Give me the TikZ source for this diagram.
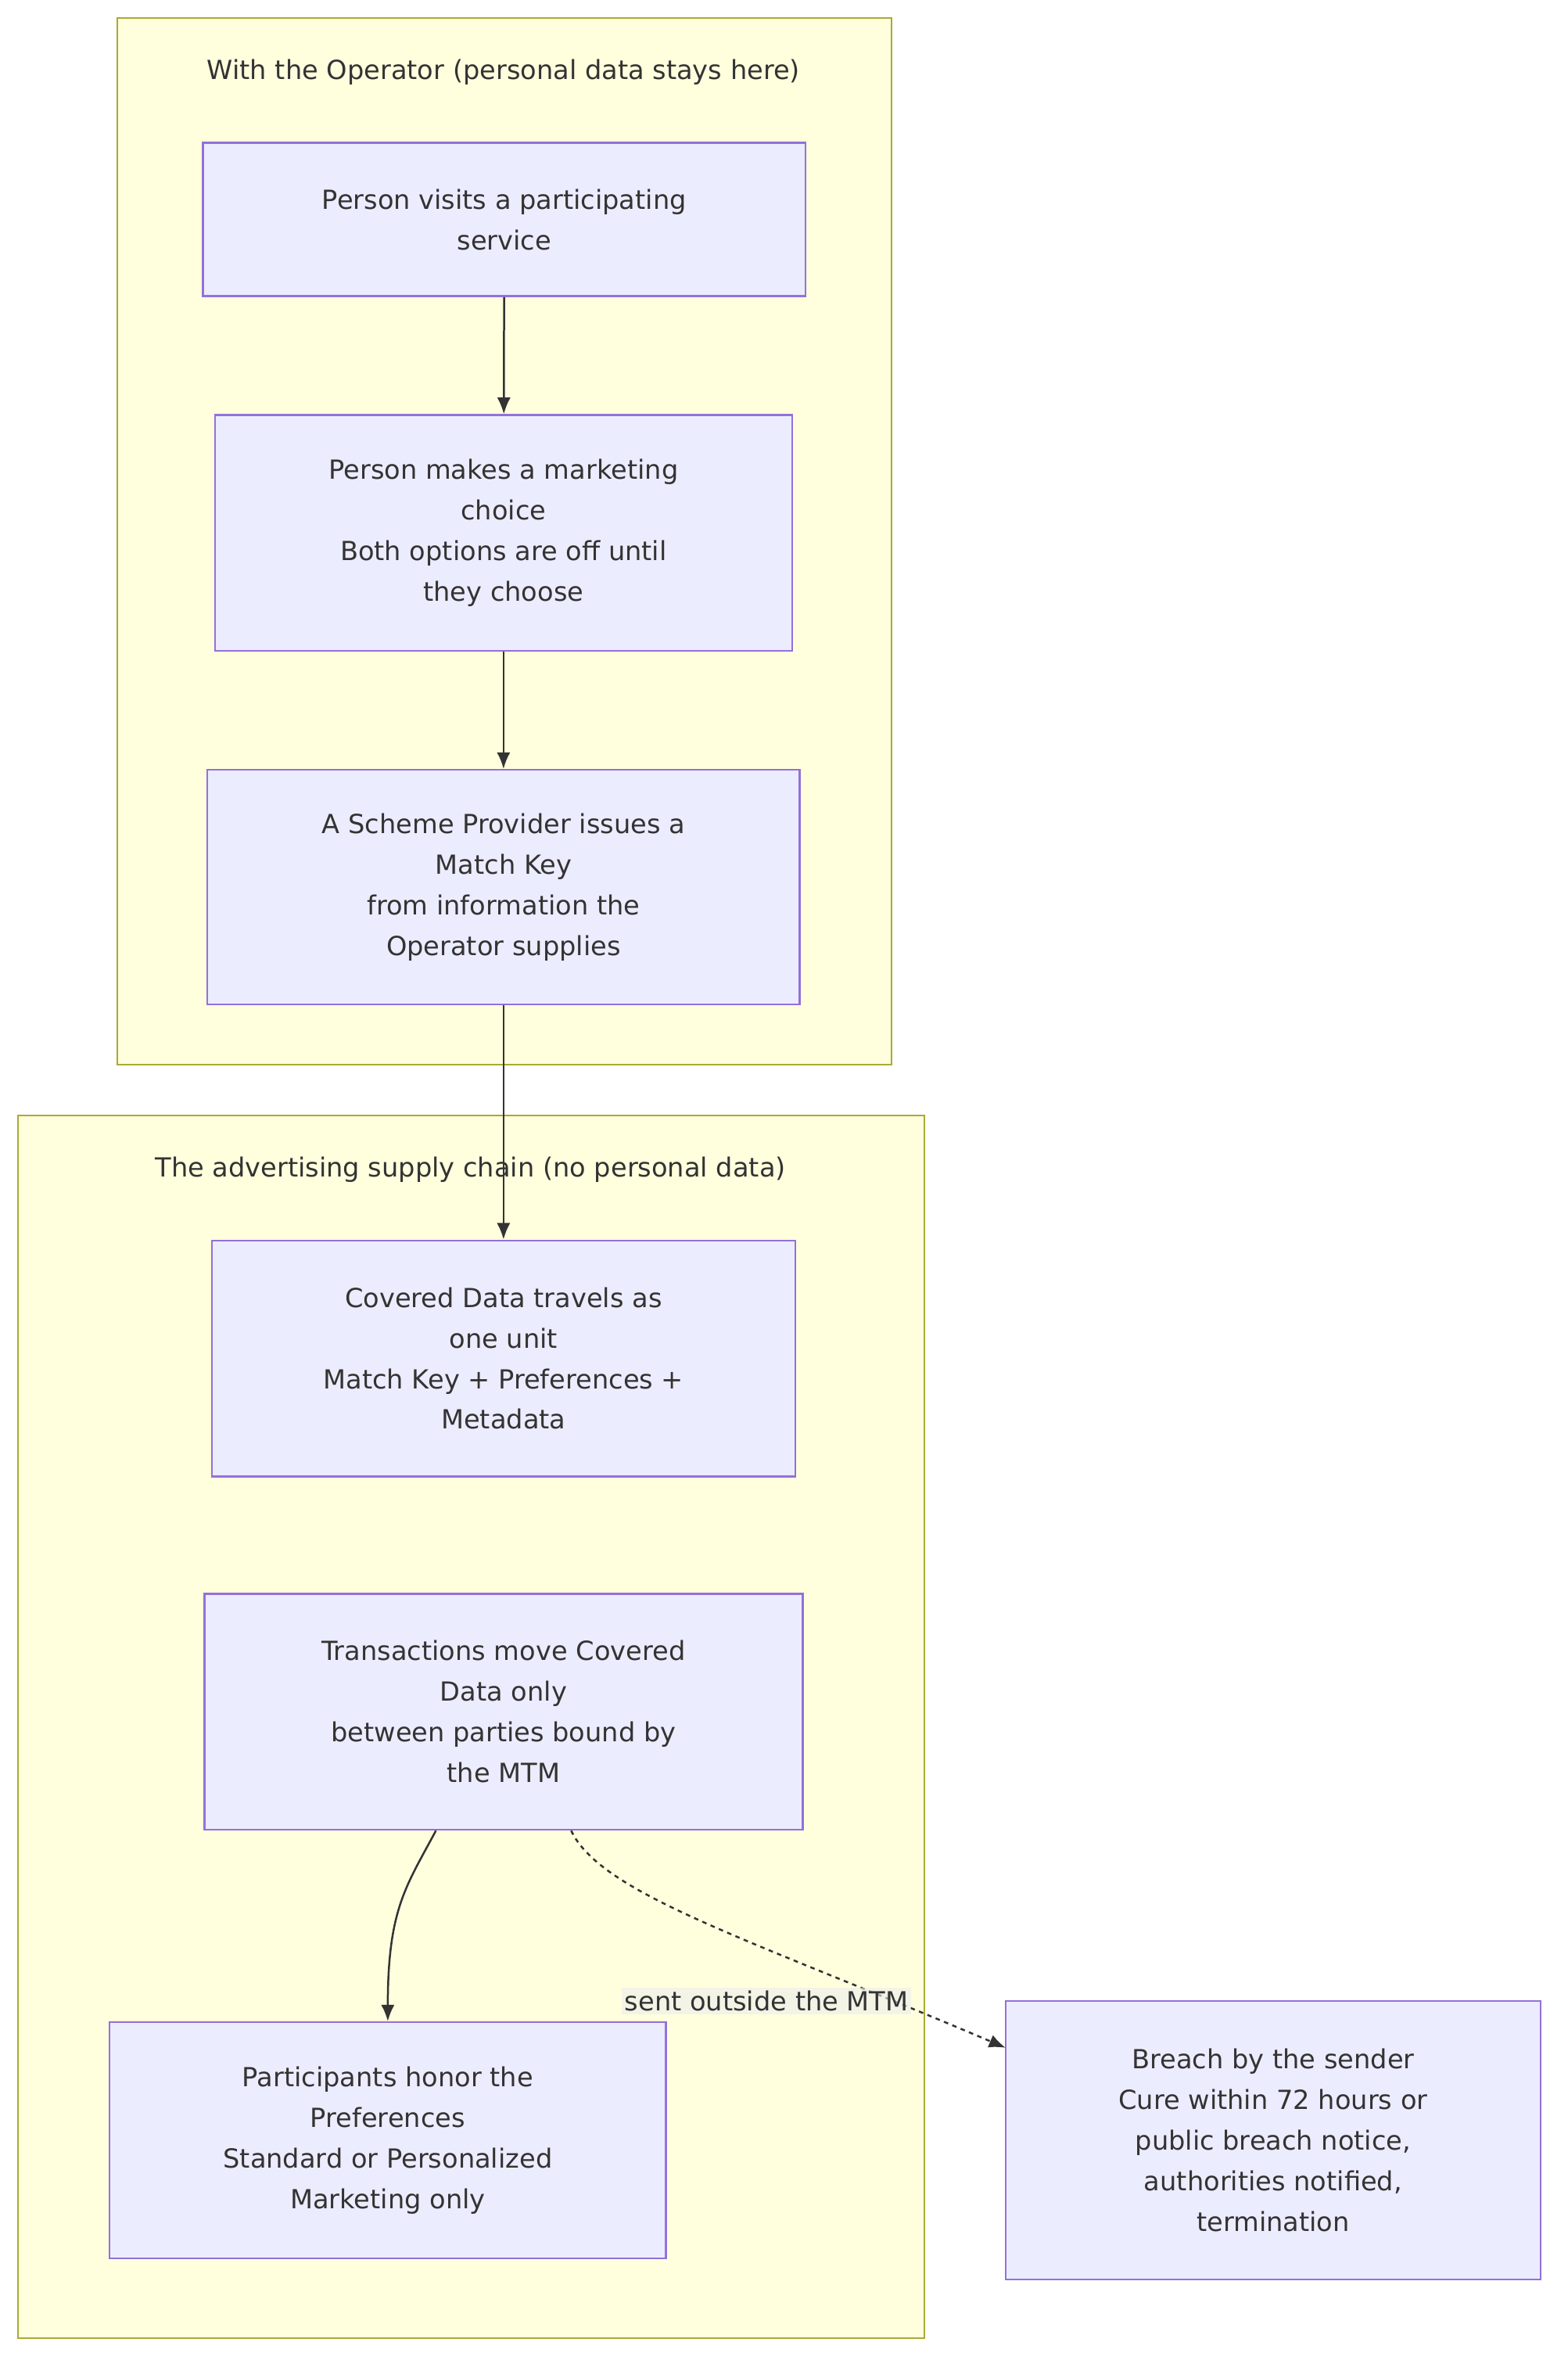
\documentclass[tikz,border=0pt]{standalone}
\usepackage{fontspec}
\setmainfont{DejaVu Sans}
\usetikzlibrary{arrows.meta}
\definecolor{clfill}{HTML}{FFFFDE}
\definecolor{clline}{HTML}{AAAA33}
\definecolor{nfill}{HTML}{ECECFF}
\definecolor{nline}{HTML}{9370DB}
\definecolor{edge}{HTML}{333333}
\definecolor{txt}{HTML}{333333}
\begin{document}
\begin{tikzpicture}[x=1pt,y=-1pt,
  every node/.style={font=\fontsize{17.5}{27}\selectfont, text=txt},
  cl/.style={draw=clline, fill=clfill, line width=1.2pt},
  nd/.style={draw=nline, fill=nfill, line width=1.2pt, align=center, inner sep=0pt},
  ar/.style={draw=edge, line width=1.3pt, -{Latex[length=11pt,width=9pt]}}]
\useasboundingbox (0,0) rectangle (1043,1577);
\fill[white] (0,0) rectangle (1043,1577);
\draw[cl] (78,12) rectangle (593,708);
\node (t1) at (335,48) {With the Operator (personal data stays here)};
\draw[cl] (12,742) rectangle (615,1555);
\node (t2) at (313,778) {The advertising supply chain (no personal data)};
\node[nd, minimum width=401pt, minimum height=102pt] (a) at (335.5,146) {Person visits a participating\\service};
\node[nd, minimum width=384pt, minimum height=157pt] (b) at (335,354.5) {Person makes a marketing\\choice\\Both options are off until\\they choose};
\node[nd, minimum width=394pt, minimum height=156pt] (c) at (335,590) {A Scheme Provider issues a\\Match Key\\from information the\\Operator supplies};
\node[nd, minimum width=388pt, minimum height=157pt] (d) at (335,903.5) {Covered Data travels as\\one unit\\Match Key + Preferences +\\Metadata};
\node[nd, minimum width=398pt, minimum height=157pt] (e) at (335,1138.5) {Transactions move Covered\\Data only\\between parties bound by\\the MTM};
\node[nd, minimum width=370pt, minimum height=157pt] (f) at (258,1423.5) {Participants honor the\\Preferences\\Standard or Personalized\\Marketing only};
\node[nd, minimum width=356pt, minimum height=185pt] (g) at (847,1423.5) {Breach by the sender\\Cure within 72 hours or\\public breach notice,\\authorities notified,\\termination};
\draw[ar] (a) -- (b);
\draw[ar] (b) -- (c);
\draw[ar] (c) -- (d);
\draw[ar] (e.south -| 290,0) .. controls (270,1255) and (258,1270) .. (f.north -| 258,0);
\draw[ar, dash pattern=on 3pt off 3pt] (e.south -| 380,0) .. controls (400,1260) and (500,1290) .. (669,1362);
\node[fill=white!85!gray, fill opacity=0.6, text opacity=1, inner sep=2pt] (lbl) at (510,1331) {sent outside the MTM};
\end{tikzpicture}
\end{document}
